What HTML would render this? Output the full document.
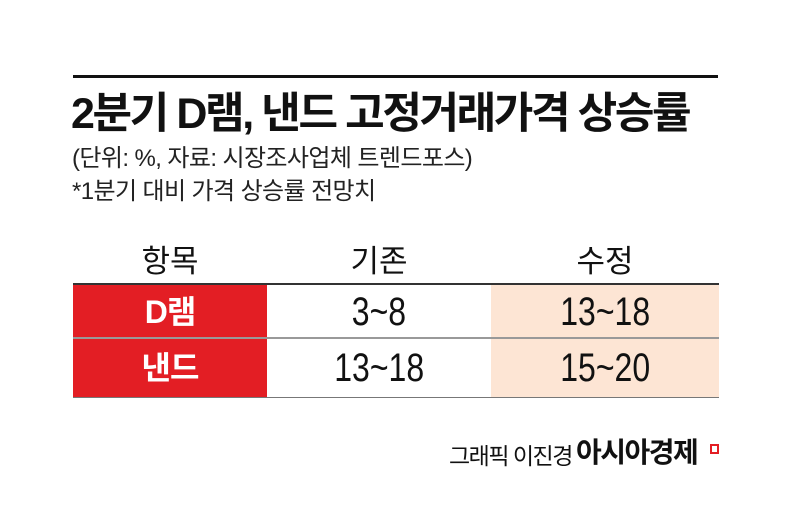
<!DOCTYPE html>
<html><head><meta charset="utf-8"><style>
body{margin:0;width:788px;height:522px;background:#fff;position:relative;overflow:hidden;font-family:"Liberation Sans","Noto Sans CJK KR",sans-serif;color:#111}
div{position:absolute;white-space:nowrap}
.c{text-align:center}
.n span{display:inline-block;transform:scaleX(0.8);font-size:40px}
</style></head><body>
<div style="left:73px;top:75px;width:645px;height:3px;background:#111"></div>
<div style="left:71px;top:84px;font-size:43px;font-weight:bold;letter-spacing:-2.4px;line-height:60px">2분기 D램, 낸드 고정거래가격 상승률</div>
<div style="left:72px;top:143px;font-size:24px;letter-spacing:-0.6px;line-height:32px;color:#222">(단위: %, 자료: 시장조사업체 트렌드포스)</div>
<div style="left:72px;top:176px;font-size:24px;letter-spacing:-0.6px;line-height:32px;color:#222">*1분기 대비 가격 상승률 전망치</div>
<div class="c" style="left:73px;top:242px;width:194px;font-size:31px;line-height:40px">항목</div>
<div class="c" style="left:267px;top:242px;width:224px;font-size:31px;line-height:40px">기존</div>
<div class="c" style="left:491px;top:242px;width:228px;font-size:31px;line-height:40px">수정</div>
<div style="left:73px;top:283px;width:646px;height:2px;background:#333"></div>
<div style="left:73px;top:285px;width:194px;height:112px;background:#e31e24"></div>
<div style="left:491px;top:285px;width:228px;height:112px;background:#fde5d4"></div>
<div style="left:73px;top:337px;width:646px;height:2px;background:#999"></div>
<div style="left:73px;top:397px;width:646px;height:1px;background:#777"></div>
<div class="c" style="left:73px;top:289px;width:194px;font-size:32px;font-weight:bold;color:#fff;line-height:46px;letter-spacing:-1px">D램</div>
<div class="c n" style="left:267px;top:287px;width:224px;line-height:50px"><span>3~8</span></div>
<div class="c n" style="left:491px;top:287px;width:228px;line-height:50px"><span>13~18</span></div>
<div class="c" style="left:73px;top:345px;width:194px;font-size:32px;font-weight:bold;color:#fff;line-height:46px;letter-spacing:-1px">낸드</div>
<div class="c n" style="left:267px;top:343px;width:224px;line-height:50px"><span>13~18</span></div>
<div class="c n" style="left:491px;top:343px;width:228px;line-height:50px"><span>15~20</span></div>
<div style="left:449px;top:441px;font-size:23px;letter-spacing:-1.5px;line-height:30px">그래픽 이진경</div>
<div style="left:576px;top:436px;font-size:28px;font-weight:bold;letter-spacing:-1.5px;line-height:34px">아시아경제</div>
<div style="left:710px;top:444px;width:5px;height:6px;border:2px solid #e31e24"></div>
</body></html>
